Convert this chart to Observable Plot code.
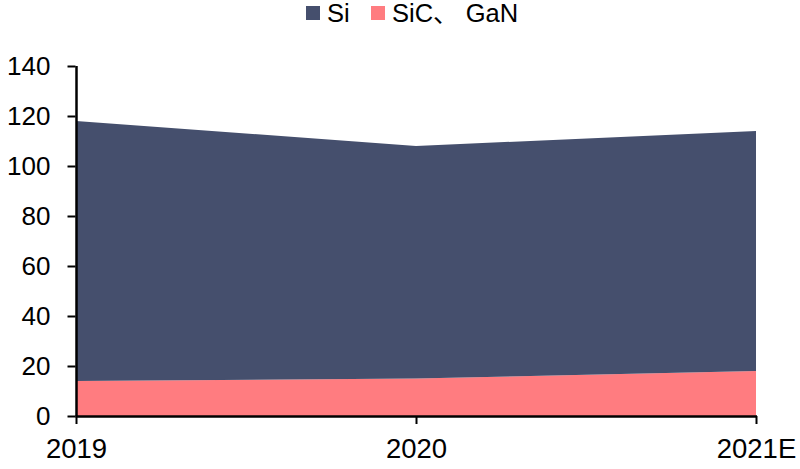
<!DOCTYPE html>
<html><head><meta charset="utf-8">
<script src="https://cdn.jsdelivr.net/npm/d3@7"></script>
<script src="https://cdn.jsdelivr.net/npm/@observablehq/plot@0.6"></script>
<style>
html,body{margin:0;padding:0;background:#fff;overflow:hidden}
body{width:800px;height:469px;font-family:"Liberation Sans","Noto Sans CJK SC",sans-serif;color:#000}
#legend{position:relative;height:28px;width:800px;font-size:25.5px;line-height:28px}
#legend span{position:absolute;top:-1px;white-space:pre}
#legend i{position:absolute;top:6px;width:14px;height:14px}
svg{display:block}
</style></head><body>
<div id="legend"></div>
<div id="chart"></div>
<script>
const years = ["2019","2020","2021E"];
const seriesNames = ["SiC、 GaN","Si"];
const sicGan = [14,15,18];
const si = [104,93,96];
const colors = ["#FF7C80","#454F6D"];
const yTicks = [0,20,40,60,80,100,120,140];

const rows = [
  ...years.map((year,i)=>({year,series:seriesNames[0],value:sicGan[i]})),
  ...years.map((year,i)=>({year,series:seriesNames[1],value:si[i]}))
];

const plot = Plot.plot({
  width:800,height:441,
  marginLeft:75.5,marginRight:43,marginTop:38,marginBottom:53,
  style:{fontFamily:'"Liberation Sans",sans-serif',fontSize:"26px",color:"#000",background:"#fff"},
  x:{type:"point",domain:years,padding:0,label:null},
  y:{domain:[0,140],label:null},
  color:{domain:seriesNames,range:colors},
  marks:[
    Plot.areaY(rows,{x:"year",y:"value",fill:"series",z:"series",curve:"linear"}),
    Plot.axisY({ticks:yTicks,tickSize:8,tickPadding:17.5,label:null,stroke:"#000",strokeWidth:2,fontSize:26,fill:"#000",tickFormat:d=>String(d)}),
    Plot.axisX({ticks:years,tickSize:8,tickPadding:14,label:null,stroke:"#000",strokeWidth:2,fontSize:27.5,fill:"#000"}),
    Plot.ruleY([0],{stroke:"#000",strokeWidth:2.5}),
    Plot.ruleX([years[0]],{stroke:"#000",strokeWidth:2.5})
  ]
});
document.getElementById("chart").append(plot);

const legend = document.getElementById("legend");
const order = [
  {name:seriesNames[1],color:colors[1],sw:306,tx:327},
  {name:seriesNames[0],color:colors[0],sw:371,tx:392}
];
for(const o of order){
  const i=document.createElement("i");i.style.left=o.sw+"px";i.style.background=o.color;legend.append(i);
  const s=document.createElement("span");s.style.left=o.tx+"px";s.textContent=o.name;legend.append(s);
}
</script>
</body></html>
